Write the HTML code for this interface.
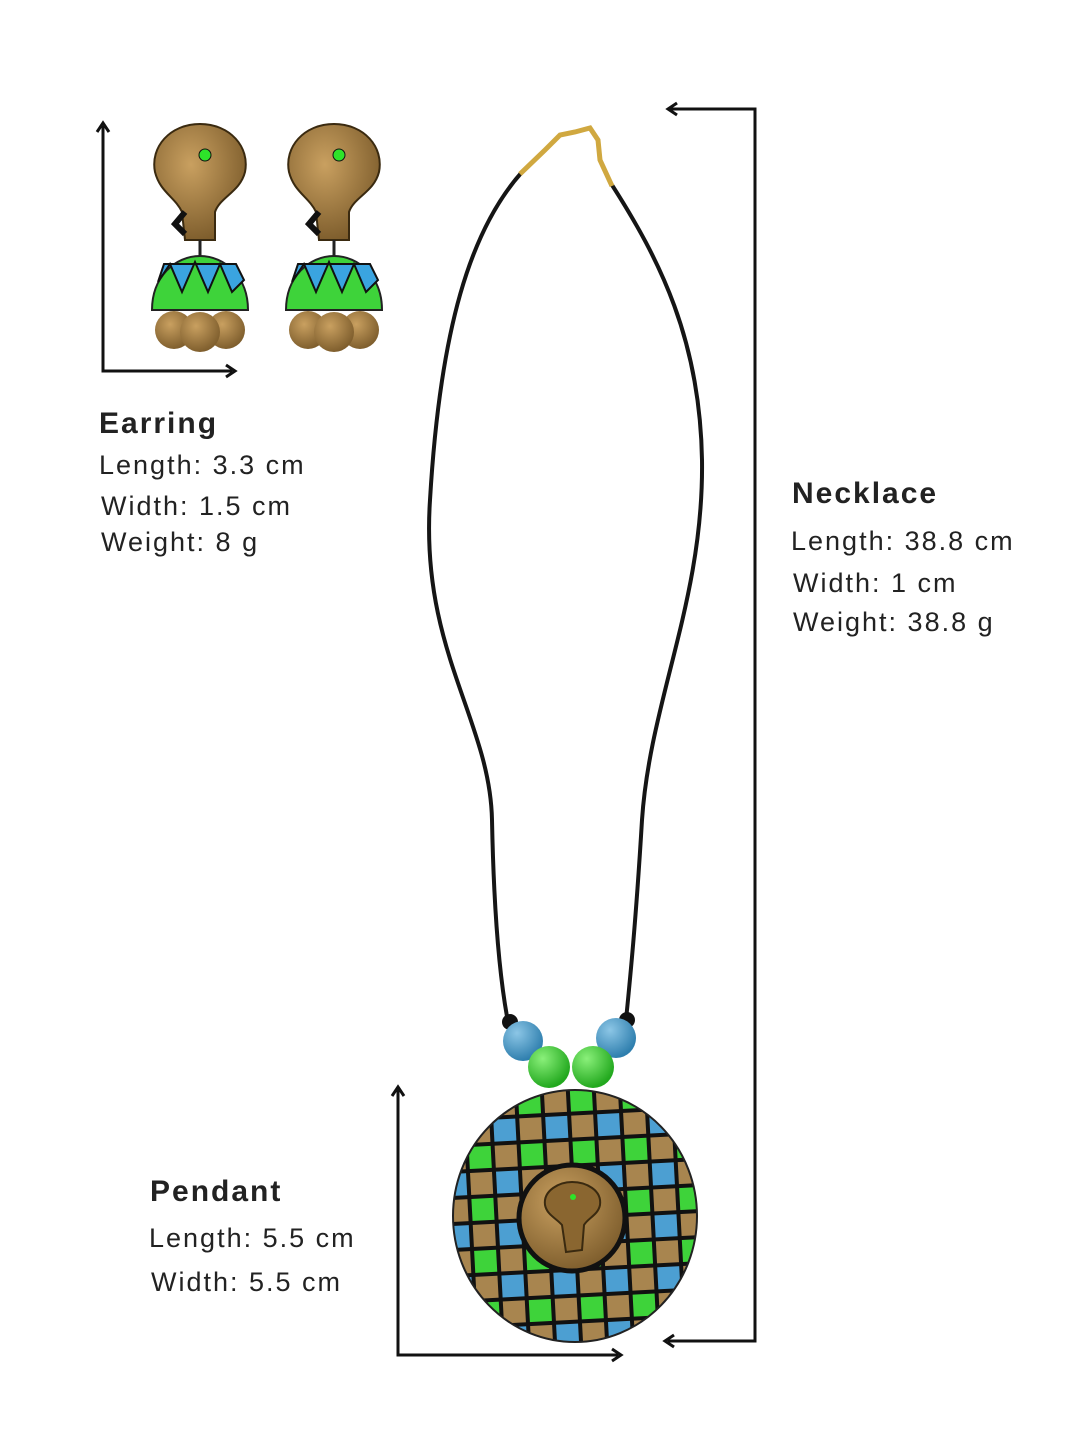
<!DOCTYPE html>
<html><head><meta charset="utf-8"><style>
html,body{margin:0;padding:0;background:#fff}
svg{display:block}
text{font-family:"Liberation Sans",sans-serif;fill:#222;letter-spacing:2px}
.h{font-weight:bold;font-size:30px}
.t{font-size:27px}
</style></head><body>
<svg width="1080" height="1440" viewBox="0 0 1080 1440" xmlns="http://www.w3.org/2000/svg">
<defs>
<pattern id="chk" width="52" height="52" patternUnits="userSpaceOnUse" patternTransform="rotate(-3) translate(458 1090)">
<rect width="52" height="52" fill="#111"/>
<rect x="2" y="2" width="22" height="22" fill="#a8854f"/>
<rect x="28" y="2" width="22" height="22" fill="#4c9fd2"/>
<rect x="2" y="28" width="22" height="22" fill="#3ed33a"/>
<rect x="28" y="28" width="22" height="22" fill="#a8854f"/>
</pattern>
<radialGradient id="gold" cx="40%" cy="35%" r="70%"><stop offset="0" stop-color="#c9a060"/><stop offset="1" stop-color="#7a5a2a"/></radialGradient>
<radialGradient id="bb" cx="35%" cy="30%" r="70%"><stop offset="0" stop-color="#8cc6e6"/><stop offset="1" stop-color="#2f7fae"/></radialGradient>
<radialGradient id="gb" cx="35%" cy="30%" r="70%"><stop offset="0" stop-color="#8af07a"/><stop offset="1" stop-color="#22a81e"/></radialGradient>
<g id="ear">
<path d="M-45 20 C-50 -5 -30 -28 0 -28 C30 -28 50 -5 45 20 C40 40 20 45 15 60 L15 88 L-15 88 L-18 60 C-25 45 -40 40 -45 20Z" fill="url(#gold)" stroke="#3a2a10" stroke-width="2"/>
<circle cx="5" cy="3" r="6" fill="#2ee32a" stroke="#111"/>
<path d="M-15 60 L-25 72 L-15 82" stroke="#111" stroke-width="6" fill="none"/>
<line x1="0" y1="88" x2="0" y2="104" stroke="#222" stroke-width="3"/>
<path d="M-48 158 C-48 125 -25 104 0 104 C25 104 48 125 48 158Z" fill="#3ed33a" stroke="#222" stroke-width="2"/>
<path d="M-42 130 L-30 112 L-18 140 L-5 110 L8 140 L20 112 L32 140 L44 128 L36 112 L-36 112Z" fill="#3aa4e0" stroke="#111" stroke-width="2"/>
<circle cx="-26" cy="178" r="19" fill="url(#gold)"/>
<circle cx="26" cy="178" r="19" fill="url(#gold)"/>
<circle cx="0" cy="180" r="20" fill="url(#gold)"/>
</g>
</defs>
<g stroke="#111" stroke-width="3" fill="none">
<polyline points="103,126 103,371 232,371"/>
<polyline points="97,132 103,123 109,132"/>
<polyline points="226,365 235,371 226,377"/>
<polyline points="668,109 755,109 755,1341 668,1341"/>
<polyline points="677,103 668,109 677,115"/>
<polyline points="674,1335 665,1341 674,1347"/>
<polyline points="398,1090 398,1355 618,1355"/>
<polyline points="392,1096 398,1087 404,1096"/>
<polyline points="612,1349 621,1355 612,1361"/>
</g>
<use href="#ear" x="200" y="152"/>
<use href="#ear" x="334" y="152"/>
<g stroke="#151515" stroke-width="4" fill="none">
<path d="M522 172 C470 230 440 330 430 500 C420 650 490 720 492 820 C494 920 500 980 508 1022"/>
<path d="M612 185 C660 260 700 340 702 460 C704 600 650 700 642 820 C636 920 630 980 626 1020"/>
</g>
<g stroke="#d0a840" stroke-width="5" fill="none">
<path d="M520 174 L545 150 L560 135 L575 132 L590 128 L598 140 L600 160 L612 186"/>
</g>
<circle cx="510" cy="1022" r="8" fill="#111"/><circle cx="627" cy="1020" r="8" fill="#111"/>
<circle cx="523" cy="1041" r="20" fill="url(#bb)"/>
<circle cx="616" cy="1038" r="20" fill="url(#bb)"/>
<circle cx="549" cy="1067" r="21" fill="url(#gb)"/>
<circle cx="593" cy="1067" r="21" fill="url(#gb)"/>
<ellipse cx="575" cy="1216" rx="122" ry="126" fill="url(#chk)" stroke="#222" stroke-width="2"/>
<circle cx="572" cy="1218" r="53" fill="url(#gold)" stroke="#111" stroke-width="5"/>
<path d="M545 1205 C543 1190 560 1182 572 1182 C586 1182 602 1190 600 1205 C598 1215 588 1218 584 1225 L582 1250 L566 1252 L562 1225 C556 1218 547 1215 545 1205Z" fill="#8a6630" stroke="#3a2a10" stroke-width="2"/>
<circle cx="573" cy="1197" r="3" fill="#2ee32a"/>
<text class="h" x="99" y="433">Earring</text>
<text class="t" x="99" y="474">Length: 3.3 cm</text>
<text class="t" x="101" y="515">Width: 1.5 cm</text>
<text class="t" x="101" y="551">Weight: 8 g</text>
<text class="h" x="792" y="503">Necklace</text>
<text class="t" x="791" y="550">Length: 38.8 cm</text>
<text class="t" x="793" y="592">Width: 1 cm</text>
<text class="t" x="793" y="631">Weight: 38.8 g</text>
<text class="h" x="150" y="1201">Pendant</text>
<text class="t" x="149" y="1247">Length: 5.5 cm</text>
<text class="t" x="151" y="1291">Width: 5.5 cm</text>
</svg>
</body></html>
